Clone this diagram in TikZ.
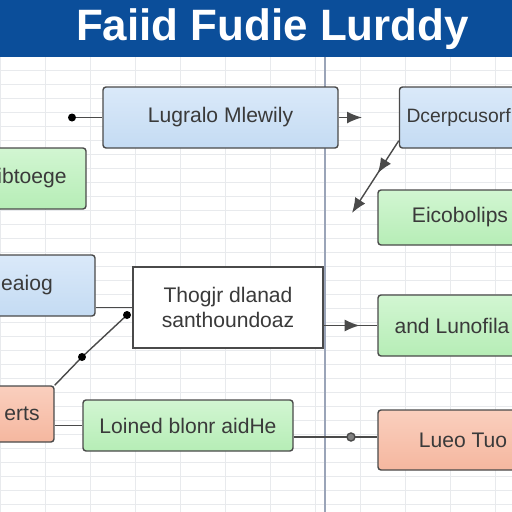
\documentclass[tikz,border=0pt]{standalone}
\usepackage{fontspec}
\setmainfont{Liberation Sans}
\usetikzlibrary{arrows.meta,calc,positioning,decorations.markings}
\definecolor{titleblue}{HTML}{0B4E9A}
\definecolor{edgegray}{HTML}{4A4A4A}
\definecolor{textgray}{HTML}{3A3A3A}
\definecolor{gridgray}{HTML}{E8EAED}
\definecolor{dividerblue}{HTML}{9AA4B8}
\definecolor{bluetop}{HTML}{DAE9F9}
\definecolor{bluebottom}{HTML}{C4DBF3}
\definecolor{greentop}{HTML}{D2F6D2}
\definecolor{greenbottom}{HTML}{B6EDB6}
\definecolor{orangetop}{HTML}{FACFBE}
\definecolor{orangebottom}{HTML}{F5B79F}

\begin{document}
\begin{tikzpicture}[font=\large]
  \tikzset{chartbox/.style={draw=edgegray, thick, rounded corners=0.6mm, text=textgray, minimum height=1.22cm, inner sep=2pt},
    bluebox/.style={chartbox, top color=bluetop, bottom color=bluebottom},
    greenbox/.style={chartbox, top color=greentop, bottom color=greenbottom},
    orangebox/.style={chartbox, top color=orangetop, bottom color=orangebottom},
    flowarrow/.style={-{Latex[length=3mm,width=2.4mm]}, thick, draw=edgegray},
    joinline/.style={thick, draw=edgegray},
    midarrow/.style={joinline, postaction={decorate}, decoration={markings, mark=at position #1 with {\arrow{Latex[length=3mm,width=2.4mm]}}}}}
  \useasboundingbox (0,0) rectangle (10.24,-10.24);
  \clip (0,0) rectangle (10.24,-10.24);
  % background and title
  \fill[white] (0,-1.14) rectangle (10.24,-10.24);
  \draw[gridgray, xstep=0.9, ystep=0.28] (0,-1.14) grid (10.24,-10.24);
  \fill[titleblue] (0,0) rectangle (10.24,-1.14);
  \node[text=white, font=\fontsize{25}{30}\selectfont\bfseries] (title) at (5.45,-0.58) {Faiid Fudie Lurddy};
  \draw[dividerblue, line width=1pt] (6.5,-1.14) -- (6.5,-10.24);
  % boxes
  \node[bluebox, minimum width=4.7cm] (lugralo) at (4.41,-2.35) {Lugralo Mlewily};
  \node[bluebox, text width=2.9cm, align=left, inner xsep=4pt, font=\fontsize{11}{13}\selectfont] (dcerp) at (9.58,-2.35) {Dcerpcusorf};
  \node[greenbox, minimum width=2.16cm] (ibtoege) at (0.64,-3.57) {ibtoege};
  \node[greenbox, minimum width=3.28cm, minimum height=1.1cm] (eicob) at (9.2,-4.35) {Eicobolips};
  \node[bluebox, minimum width=2.72cm] (eaiog) at (0.54,-5.71) {eaiog};
  \node[chartbox, fill=white, rounded corners=0, minimum width=3.8cm, minimum height=1.62cm, align=center] (thogjr) at (4.56,-6.15) {Thogjr dlanad\\santhoundoaz};
  \node[greenbox, minimum width=2.96cm] (andl) at (9.04,-6.51) {and Lunofila};
  \node[orangebox, minimum width=1.28cm, minimum height=1.12cm] (erts) at (0.44,-8.28) {erts};
  \node[greenbox, minimum width=4.2cm, minimum height=1.02cm] (loinel) at (3.76,-8.51) {Loined blonr aidHe};
  \node[orangebox, minimum width=3.4cm, minimum height=1.2cm] (lueo) at (9.26,-8.8) {Lueo Tuo};
  % connectors
  \coordinate (dotA) at (1.44,-2.35);
  \coordinate (lugraloTip) at (7.24,-2.35);
  \coordinate (dcerpEnd) at (7.04,-4.26);
  \coordinate (dotB) at (2.54,-6.3);
  \coordinate (dotC) at (1.64,-7.14);
  \coordinate (dotD) at (7.02,-8.74);
  \draw[joinline] (dotA) -- (lugralo.west);
  \fill[black] (dotA) circle (0.08);
  \draw[flowarrow] (lugralo.east) -- (lugraloTip);
  \draw[midarrow=0.45, -{Latex[length=3mm,width=2.4mm]}] ($(dcerp.south west)+(0,0.16)$) -- (dcerpEnd);
  \draw[joinline] (thogjr.west -| eaiog.east) -- (thogjr.west);
  \draw[joinline] (erts.north east) -- (dotC) -- (dotB);
  \fill[black] (dotB) circle (0.08);
  \fill[black] (dotC) circle (0.08);
  \draw[midarrow=0.67] (thogjr.east |- andl.west) -- (andl.west);
  \draw[joinline] (loinel.west -| erts.east) -- (loinel.west);
  \draw[joinline] (loinel.east |- dotD) -- (dotD -| lueo.west);
  \filldraw[fill=gray, draw=edgegray, thick] (dotD) circle (0.08);
\end{tikzpicture}
\end{document}
